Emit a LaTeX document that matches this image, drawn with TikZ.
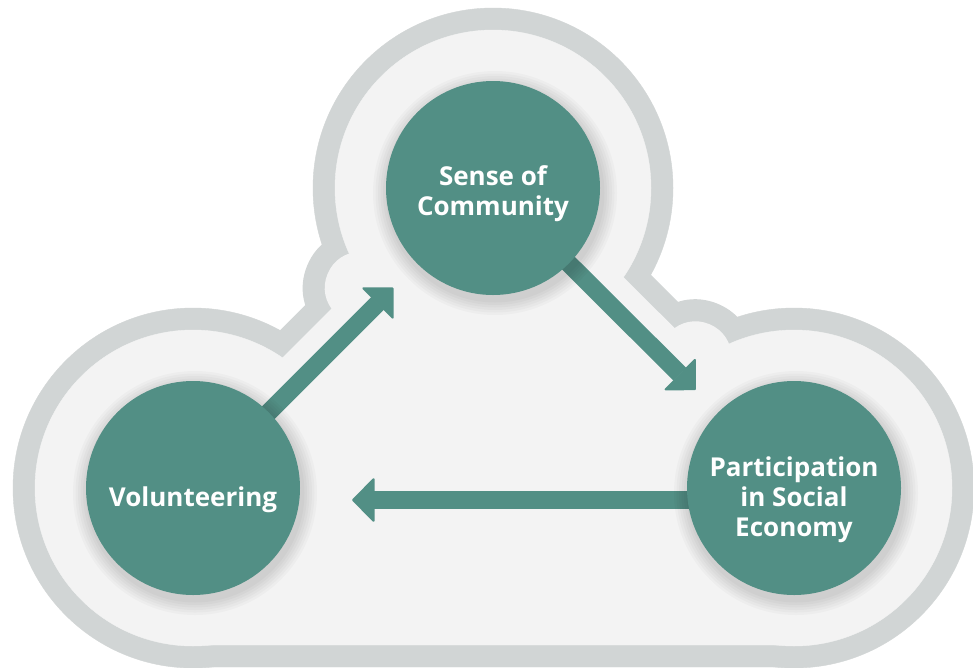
\documentclass[tikz,border=0pt]{standalone}
\usepackage{fontspec}
\setsansfont{Open Sans}
\usetikzlibrary{arrows.meta, positioning, calc, backgrounds}
\definecolor{bubblegreen}{HTML}{528F85}
\definecolor{cloudrim}{HTML}{D1D5D5}
\definecolor{cloudfill}{HTML}{F3F3F3}

\begin{document}
\begin{tikzpicture}[x=1pt, y=-1pt, >={Triangle[length=23pt, width=46pt, line width=2pt, round]},
    bubble/.style={circle, fill=bubblegreen, minimum size=214pt, inner sep=0pt},
    txt/.style={text=white, align=center, font=\sffamily\bfseries\fontsize{26}{30}\selectfont},
    flow/.style={->, draw=bubblegreen, fill=bubblegreen, line width=18pt},
    rim/.style={fill=cloudrim, draw=cloudrim, line join=round},
    inside/.style={fill=cloudfill, draw=cloudfill, line join=round}]
  \useasboundingbox (0,0) rectangle (973,667);
  \node[bubble, label={[txt, yshift=-6pt]center:Sense of\\Community}] (com) at (493,188) {};
  \node[bubble, label={[txt, yshift=-12pt]center:Volunteering}] (vol) at (193,488) {};
  \node[bubble, label={[txt, yshift=-12pt]center:Participation\\in Social\\Economy}] (part) at (794,488) {};
  \coordinate (t1) at ($(com.center)!141pt!(vol.center)$);
  \coordinate (t2) at ($(part.center)!139pt!(com.center)$);

  \begin{scope}[on background layer]
    \fill[white] (0,0) rectangle (973,667);
    % outer rim of the cloud
    \foreach \n in {vol, com, part}
      \fill[rim] (\n.center) circle[radius=180pt];
    \fill[rim] (vol.center) -- (com.center) -- (part.center) -- ++(0,179) -- ($(vol.center)+(0,179)$) -- cycle;
    \draw[rim, line width=100pt] (vol.center) -- (t1) (com.center) -- (t2);
    \filldraw[rim, line width=116pt] (t1) -- ++(-32.5,0) -- ++(32.5,32.5) -- cycle;
    \filldraw[rim, line width=116pt] (t2) -- ++(0,-32.5) -- ++(-32.5,32.5) -- cycle;
    % inside of the cloud
    \foreach \n in {vol, com, part}
      \fill[inside] (\n.center) circle[radius=158pt];
    \fill[inside] (vol.center) -- (com.center) -- (part.center) -- ++(0,157) -- ($(vol.center)+(0,157)$) -- cycle;
    \draw[inside, line width=58pt] (vol.center) -- (t1) (com.center) -- (t2);
    \filldraw[inside, line width=72pt] (t1) -- ++(-32.5,0) -- ++(32.5,32.5) -- cycle;
    \filldraw[inside, line width=72pt] (t2) -- ++(0,-32.5) -- ++(-32.5,32.5) -- cycle;

    \draw[flow, shorten >=141pt] (vol.center) -- (com.center);
    \draw[flow, shorten >=139pt] (com.center) -- (part.center);
    \draw[flow, shorten >=159pt] ([yshift=-12pt]part.center) -- ([yshift=-12pt]vol.center);

    \foreach \n in {vol, com, part}
      \foreach \s in {1,...,6}
        \fill[black, opacity=0.025] ([shift={(2,5)}]\n.center) circle[radius=107pt+\s*2.5pt];
  \end{scope}
\end{tikzpicture}
\end{document}
